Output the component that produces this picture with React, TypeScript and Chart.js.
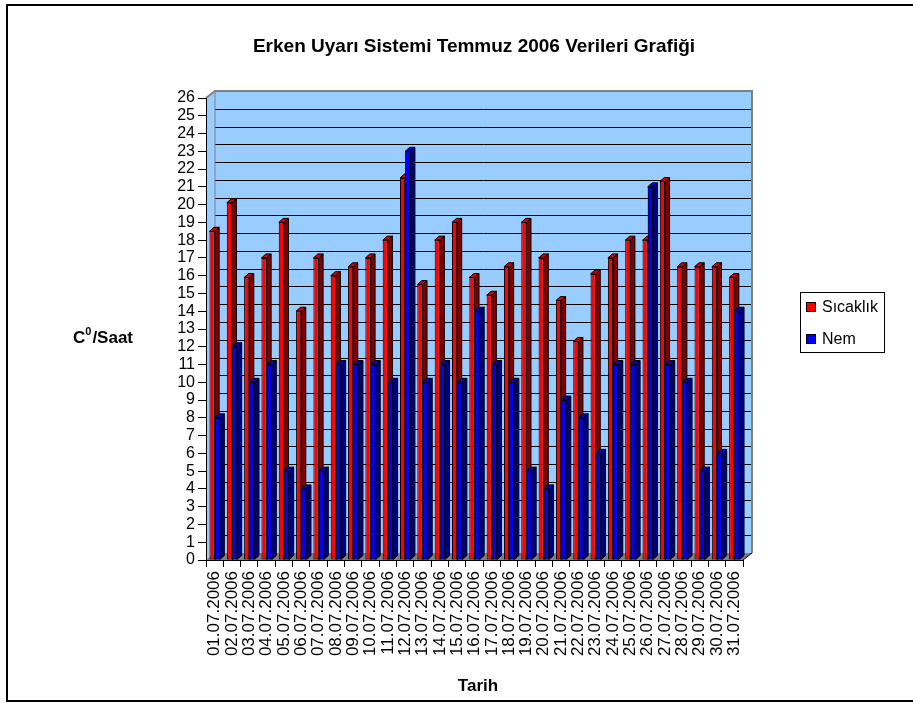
import React, { useEffect, useRef } from "react";
import { Chart, registerables } from "chart.js";

Chart.register(...registerables);

const dates = [
  "01.07.2006", "02.07.2006", "03.07.2006", "04.07.2006", "05.07.2006", "06.07.2006",
  "07.07.2006", "08.07.2006", "09.07.2006", "10.07.2006", "11.07.2006", "12.07.2006",
  "13.07.2006", "14.07.2006", "15.07.2006", "16.07.2006", "17.07.2006", "18.07.2006",
  "19.07.2006", "20.07.2006", "21.07.2006", "22.07.2006", "23.07.2006", "24.07.2006",
  "25.07.2006", "26.07.2006", "27.07.2006", "28.07.2006", "29.07.2006", "30.07.2006",
  "31.07.2006",
];
const sicaklik = [
  18.5, 20.1, 15.9, 17, 19, 14, 17, 16, 16.5, 17, 18, 21.5, 15.5, 18, 19, 15.9,
  14.9, 16.5, 19, 17, 14.6, 12.3, 16.1, 17, 18, 18, 21.3, 16.5, 16.5, 16.5, 15.9,
];
const nem = [
  8, 12, 10, 11, 5, 4, 5, 11, 11, 11, 10, 23, 10, 11, 10, 14, 11, 10, 5, 4, 9, 8, 6,
  11, 11, 21, 11, 10, 5, 6, 14,
];
const seriesNames = ["Sıcaklık", "Nem"];
const yMin = 0;
const yMax = 26;
const yStep = 1;
const titleText = "Erken Uyarı Sistemi Temmuz 2006 Verileri Grafiği";
const xTitle = "Tarih";

const FONT = "'Liberation Sans', Arial, sans-serif";
const WALL = { dx: 9, dy: 7 };
const BAR = { dx: 4.5, dy: 4 };
const FRONT = ["#FF0000", "#0000FF"];
const SIDE = ["#800000", "#000080"];
const TOP = ["#D00000", "#0000D0"];

function poly(ctx: CanvasRenderingContext2D, pts: number[][]) {
  ctx.beginPath();
  ctx.moveTo(pts[0][0], pts[0][1]);
  for (let i = 1; i < pts.length; i++) ctx.lineTo(pts[i][0], pts[i][1]);
  ctx.closePath();
}

const backgroundPlugin = {
  id: "walls",
  beforeDraw(chart: any) {
    const { ctx, chartArea, scales } = chart;
    const { left, right, top, bottom } = chartArea;
    const y = scales.y;
    const { dx, dy } = WALL;
    ctx.save();
    ctx.fillStyle = "#FFFFFF";
    ctx.fillRect(0, 0, chart.width, chart.height);
    // outer frame
    ctx.strokeStyle = "#000";
    ctx.lineWidth = 2;
    ctx.strokeRect(7, 5, 1000, 696);

    // left wall
    ctx.fillStyle = "#99CCFF";
    poly(ctx, [[left, top], [left + dx, top - dy], [left + dx, bottom - dy], [left, bottom]]);
    ctx.fill();
    // back wall
    ctx.fillRect(left + dx, top - dy, right - left, bottom - top);
    // grid lines on back wall
    ctx.strokeStyle = "#000";
    ctx.lineWidth = 1;
    for (let v = yMin; v <= yMax; v += yStep) {
      const py = Math.round(y.getPixelForValue(v) - dy) + 0.5;
      ctx.beginPath();
      ctx.moveTo(left + dx, py);
      ctx.lineTo(right + dx, py);
      ctx.stroke();
    }
    // floor
    ctx.fillStyle = "#808080";
    poly(ctx, [[left, bottom], [left + dx, bottom - dy], [right + dx, bottom - dy], [right, bottom]]);
    ctx.fill();
    ctx.strokeStyle = "#000";
    ctx.lineWidth = 1;
    ctx.beginPath();
    ctx.moveTo(right, bottom);
    ctx.lineTo(right + dx, bottom - dy);
    ctx.stroke();
    // wall borders
    ctx.strokeStyle = "#808080";
    ctx.lineWidth = 2;
    ctx.beginPath();
    ctx.moveTo(left, top);
    ctx.lineTo(left + dx, top - dy);
    ctx.lineTo(right + dx, top - dy);
    ctx.lineTo(right + dx, bottom - dy);
    ctx.stroke();
    ctx.lineWidth = 1;
    ctx.beginPath();
    ctx.moveTo(left + dx, top - dy);
    ctx.lineTo(left + dx, bottom - dy);
    ctx.stroke();
    ctx.restore();
  },
};

function drawFaces(ctx: CanvasRenderingContext2D, el: any, k: number) {
  const p = el.getProps(["x", "y", "base", "width"], true);
  const l = p.x - p.width / 2;
  const r = p.x + p.width / 2;
  const t = Math.min(p.y, p.base);
  const b = Math.max(p.y, p.base);
  const { dx, dy } = BAR;
  ctx.lineWidth = 1;
  ctx.strokeStyle = "#000";
  ctx.fillStyle = SIDE[k];
  poly(ctx, [[r, t], [r + dx, t - dy], [r + dx, b - dy], [r, b]]);
  ctx.fill();
  ctx.stroke();
  ctx.fillStyle = TOP[k];
  poly(ctx, [[l, t], [l + dx, t - dy], [r + dx, t - dy], [r, t]]);
  ctx.fill();
  ctx.stroke();
}

const barsPlugin = {
  id: "bars3d",
  afterDatasetsDraw(chart: any) {
    const { ctx } = chart;
    const m0 = chart.getDatasetMeta(0);
    const m1 = chart.getDatasetMeta(1);
    ctx.save();
    for (let i = 0; i < m0.data.length; i++) {
      drawFaces(ctx, m0.data[i], 0);
      m1.data[i].draw(ctx);
      drawFaces(ctx, m1.data[i], 1);
    }
    ctx.restore();
  },
};

const textPlugin = {
  id: "texts",
  afterDraw(chart: any) {
    const { ctx } = chart;
    ctx.save();
    ctx.fillStyle = "#000";
    ctx.textBaseline = "middle";
    // title
    ctx.font = `bold 19px ${FONT}`;
    ctx.textAlign = "center";
    ctx.fillText(titleText, 474, 47);
    // x title
    ctx.font = `bold 17px ${FONT}`;
    ctx.fillText(xTitle, 478, 686);
    // y title: C⁰/Saat
    ctx.textAlign = "left";
    let x = 73;
    ctx.fillText("C", x, 338);
    x += ctx.measureText("C").width;
    ctx.font = `bold 11px ${FONT}`;
    ctx.fillText("0", x, 332);
    x += ctx.measureText("0").width + 1;
    ctx.font = `bold 17px ${FONT}`;
    ctx.fillText("/Saat", x, 338);

    // legend
    ctx.lineWidth = 1;
    ctx.strokeStyle = "#000";
    ctx.strokeRect(800.5, 292.5, 84, 60);
    ctx.font = `16px ${FONT}`;
    const items = [
      { name: seriesNames[0], color: FRONT[0], y: 307 },
      { name: seriesNames[1], color: FRONT[1], y: 339 },
    ];
    for (const it of items) {
      ctx.fillStyle = it.color;
      ctx.fillRect(806.5, it.y - 4.5, 9, 9);
      ctx.strokeRect(806.5, it.y - 4.5, 9, 9);
      ctx.fillStyle = "#000";
      ctx.fillText(it.name, 822, it.y + 1);
    }
    ctx.restore();
  },
};

export default function App() {
  const ref = useRef<HTMLCanvasElement | null>(null);
  useEffect(() => {
    document.body.style.margin = "0";
    const canvas = ref.current!;
    const chart = new Chart(canvas, {
      type: "bar",
      data: {
        labels: dates,
        datasets: [
          {
            label: seriesNames[0],
            data: sicaklik,
            backgroundColor: FRONT[0],
            borderColor: "#000",
            borderWidth: 1,
            borderSkipped: false,
            categoryPercentage: 0.6,
            barPercentage: 1,
          },
          {
            label: seriesNames[1],
            data: nem,
            backgroundColor: FRONT[1],
            borderColor: "#000",
            borderWidth: 1,
            borderSkipped: false,
            categoryPercentage: 0.6,
            barPercentage: 1,
          },
        ],
      },
      options: {
        animation: false,
        responsive: false,
        devicePixelRatio: 1,
        events: [],
        layout: { padding: { top: 98, right: 170, left: 0, bottom: 0 } },
        plugins: {
          legend: { display: false },
          tooltip: { enabled: false },
          title: { display: false },
        },
        scales: {
          x: {
            afterFit: (s: any) => {
              s.height = 143;
            },
            grid: {
              offset: true,
              drawOnChartArea: false,
              drawTicks: true,
              tickLength: 7,
              color: "#000",
            },
            border: { color: "#000", width: 1 },
            ticks: {
              autoSkip: false,
              minRotation: 90,
              maxRotation: 90,
              padding: 4,
              color: "#000",
              font: { family: FONT, size: 17 },
            },
          },
          y: {
            min: yMin,
            max: yMax,
            afterFit: (s: any) => {
              s.width = 206;
            },
            grid: {
              drawOnChartArea: false,
              drawTicks: true,
              tickLength: 8,
              color: "#000",
            },
            border: { color: "#000", width: 1 },
            ticks: {
              stepSize: yStep,
              autoSkip: false,
              padding: 3,
              color: "#000",
              font: { family: FONT, size: 16 },
            },
          },
        },
      },
      plugins: [backgroundPlugin, barsPlugin, textPlugin],
    });
    return () => chart.destroy();
  }, []);
  return (
    <div style={{ position: "fixed", left: 0, top: 0, width: 913, height: 703, background: "#fff" }}>
      <canvas ref={ref} width={913} height={703} style={{ display: "block" }} />
    </div>
  );
}
